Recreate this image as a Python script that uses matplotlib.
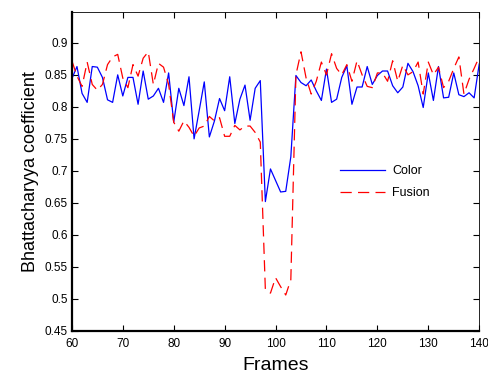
import matplotlib
matplotlib.use('Agg')
import matplotlib.pyplot as plt
import numpy as np

plt.rcParams['font.family'] = ['Liberation Sans', 'DejaVu Sans']

frames = np.arange(60, 141)

color_vals = [0.844, 0.863, 0.821, 0.807, 0.863, 0.862, 0.846, 0.811, 0.807, 0.850,
              0.817, 0.846, 0.846, 0.804, 0.856, 0.812, 0.817, 0.829, 0.807, 0.853,
              0.776, 0.829, 0.802, 0.847, 0.750, 0.794, 0.839, 0.753, 0.778, 0.813,
              0.794, 0.847, 0.774, 0.812, 0.834, 0.779, 0.829, 0.841, 0.652, 0.703,
              0.685, 0.667, 0.668, 0.722, 0.849, 0.838, 0.833, 0.842, 0.825, 0.810,
              0.859, 0.807, 0.812, 0.846, 0.864, 0.804, 0.831, 0.831, 0.863, 0.835,
              0.849, 0.856, 0.856, 0.833, 0.822, 0.831, 0.868, 0.855, 0.833, 0.799,
              0.853, 0.810, 0.863, 0.814, 0.815, 0.853, 0.819, 0.816, 0.822, 0.814,
              0.867]

fusion_vals = [0.872, 0.848, 0.832, 0.870, 0.835, 0.826, 0.835, 0.866, 0.878, 0.882,
               0.845, 0.830, 0.866, 0.848, 0.876, 0.886, 0.835, 0.868, 0.862, 0.835,
               0.776, 0.762, 0.778, 0.768, 0.754, 0.767, 0.770, 0.785, 0.778, 0.783,
               0.754, 0.754, 0.771, 0.764, 0.770, 0.770, 0.760, 0.745, 0.514, 0.509,
               0.533, 0.519, 0.506, 0.530, 0.850, 0.886, 0.845, 0.820, 0.840, 0.870,
               0.850, 0.883, 0.860, 0.850, 0.866, 0.840, 0.872, 0.850, 0.832, 0.830,
               0.853, 0.853, 0.840, 0.872, 0.840, 0.865, 0.850, 0.855, 0.870, 0.820,
               0.870, 0.850, 0.862, 0.830, 0.840, 0.860, 0.878, 0.820, 0.843, 0.860,
               0.878]

yticks = [0.45, 0.5, 0.55, 0.6, 0.65, 0.7, 0.75, 0.8, 0.85, 0.9]
yticklabels = ['0.45', '0.5', '0.55', '0.6', '0.65', '0.7', '0.75', '0.8', '0.85', '0.9']

fig = plt.figure(figsize=(4.89, 3.79), dpi=100)
ax = fig.add_axes([0.147, 0.127, 0.833, 0.841])

ax.plot(frames, color_vals, color='#0000ff', linewidth=0.9, label='Color')
ax.plot(frames, fusion_vals, color='#ff0000', linewidth=0.9, dashes=(9, 5), label='Fusion')

ax.set_xlim(60, 140)
ax.set_ylim(0.45, 0.948)
ax.set_xticks(np.arange(60, 141, 10))
ax.set_yticks(yticks)
ax.set_yticklabels(yticklabels)
ax.tick_params(direction='in', top=True, right=True, labelsize=8.5, length=4, width=0.8)
ax.tick_params(axis='x', pad=5)
ax.tick_params(axis='y', pad=3)

for side in ['left', 'bottom']:
    ax.spines[side].set_linewidth(1.6)
for side in ['top', 'right']:
    ax.spines[side].set_linewidth(0.6)

ax.set_xlabel('Frames', fontsize=14, labelpad=5)
ax.set_ylabel('Bhattacharyya coefficient', fontsize=13, labelpad=4)

ax.legend(loc='upper left', bbox_to_anchor=(0.63, 0.555), frameon=False, fontsize=9,
          handlelength=3.6, handletextpad=0.6, labelspacing=0.8)

fig.savefig('out.png', dpi=100)
